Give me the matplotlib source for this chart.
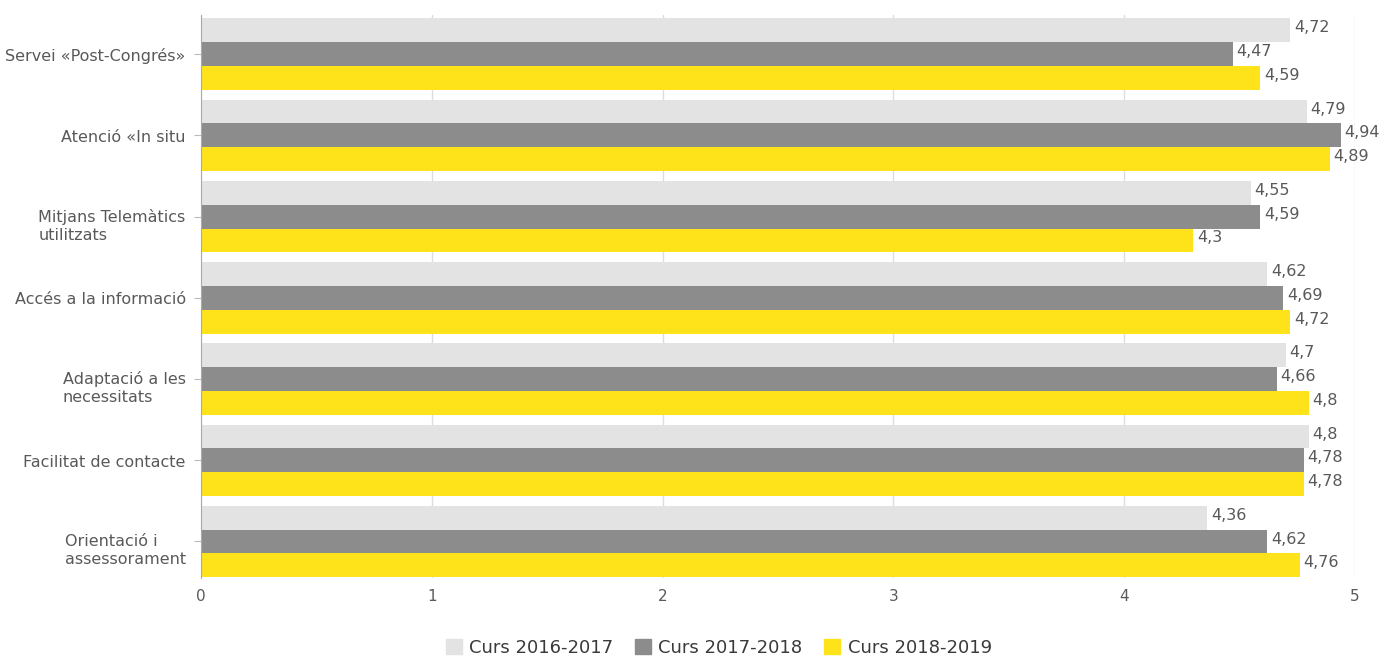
import numpy as np
import matplotlib.pyplot as plt
from matplotlib.patches import Patch

categories = ["Servei «Post-Congrés»", "Atenció «In situ", "Mitjans Telemàtics\nutilitzats",
              "Accés a la informació", "Adaptació a les\nnecessitats", "Facilitat de contacte",
              "Orientació i\nassessorament"]
series = ["Curs 2016-2017", "Curs 2017-2018", "Curs 2018-2019"]
v2016 = [4.72, 4.79, 4.55, 4.62, 4.70, 4.80, 4.36]
v2017 = [4.47, 4.94, 4.59, 4.69, 4.66, 4.78, 4.62]
v2018 = [4.59, 4.89, 4.30, 4.72, 4.80, 4.78, 4.76]

colors = ["#e3e3e3", "#8c8c8c", "#ffe31a"]
txt = "#595959"

fig = plt.figure(figsize=(13.82, 6.6), dpi=100)
ax = fig.add_axes([0.1454, 0.1242, 0.8351, 0.8528])

y = np.arange(len(categories))
h = 0.293
for i, (vals, c) in enumerate(zip([v2016, v2017, v2018], colors)):
    ypos = y + (i - 1) * h
    ax.barh(ypos, vals, height=h, color=c, zorder=2)
    for yy, v in zip(ypos, vals):
        lab = ("%g" % v).replace(".", ",")
        ax.text(v + 0.015, yy - 0.03, lab, va="center", ha="left", fontsize=11.5, color=txt,
                clip_on=False)

ax.set_ylim(6.45, -0.48)
ax.set_xlim(0, 5)
ax.set_yticks(y)
ax.set_yticklabels([])
# category labels drawn by hand: first line on the tick, lines left-aligned
for yi, cat in zip(y, categories):
    if "\n" in cat:
        ax.annotate(cat, xy=(0, yi), xycoords=ax.get_yaxis_transform(), xytext=(-11, 5.5),
                    textcoords="offset points", ha="right", va="top", multialignment="left",
                    fontsize=11.5, color=txt, linespacing=1.25)
    else:
        ax.annotate(cat, xy=(0, yi), xycoords=ax.get_yaxis_transform(), xytext=(-11, -1.5),
                    textcoords="offset points", ha="right", va="center",
                    fontsize=11.5, color=txt)
ax.set_xticks(range(6))
ax.tick_params(axis="x", length=0, labelsize=11, labelcolor=txt, pad=8)
ax.tick_params(axis="y", length=5, color="#bbbbbb")
ax.grid(axis="x", color="#dddddd", linewidth=1, zorder=0)
for s in ["top", "right", "bottom"]:
    ax.spines[s].set_visible(False)
ax.spines["left"].set_color("#aaaaaa")

handles = [Patch(color=c, label=s) for c, s in zip(colors, series)]
fig.legend(handles=handles, loc="center", bbox_to_anchor=(0.52, 0.018), ncol=3, frameon=False,
           fontsize=13, handlelength=0.9, handleheight=0.9, columnspacing=1.2, handletextpad=0.4,
           labelcolor="#3a3a3a")

fig.savefig("out.png", dpi=100)
